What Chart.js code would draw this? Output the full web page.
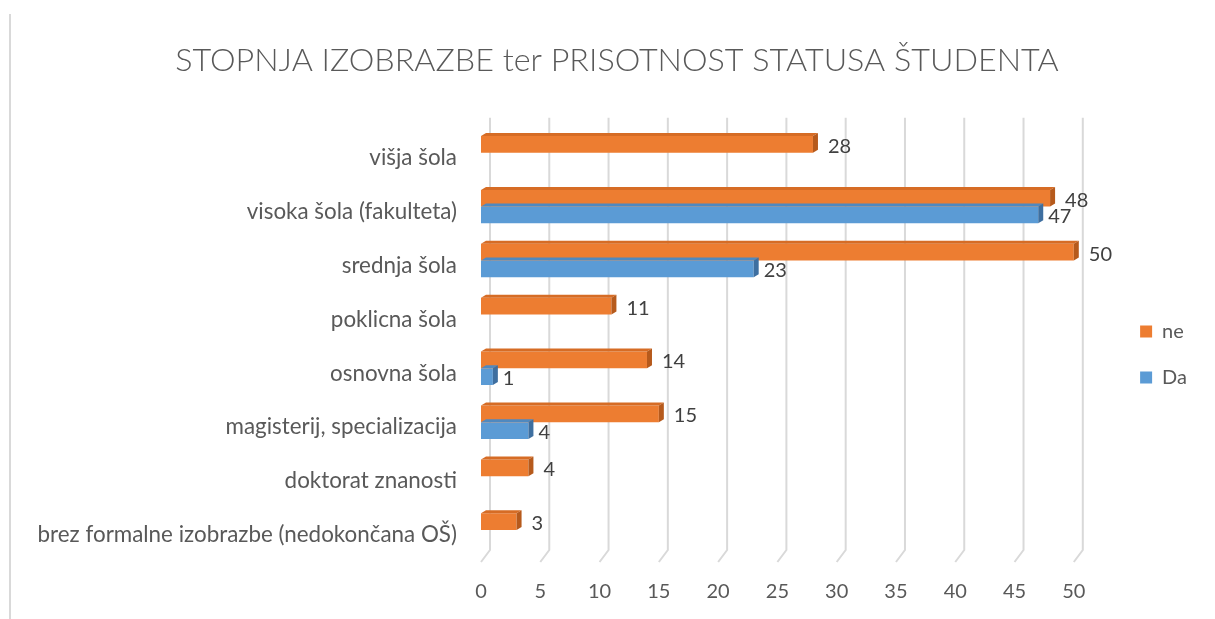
<!DOCTYPE html>
<html>
<head>
<meta charset="utf-8">
<script src="https://cdn.jsdelivr.net/npm/chart.js@4.4.1/dist/chart.umd.min.js"></script>
<style>
  html, body { margin: 0; padding: 0; background: #fff; }
  #wrap { position: relative; width: 1215px; height: 619px; overflow: hidden; }
  #edge { position: absolute; left: 9px; top: 14px; width: 2px; height: 605px; background: #d9d9d9; }
  canvas { position: absolute; left: 0; top: 0; }
</style>
</head>
<body>
<div id="wrap">
  <div id="edge"></div>
  <canvas id="chart" width="1215" height="619"></canvas>
</div>
<script>
const categories = [
    'višja šola',
    'visoka šola (fakulteta)',
    'srednja šola',
    'poklicna šola',
    'osnovna šola',
    'magisterij, specializacija',
    'doktorat znanosti',
    'brez formalne izobrazbe (nedokončana OŠ)'
];
const neValues = [28, 48, 50, 11, 14, 15, 4, 3];
const daValues = [null, 47, 23, null, 1, 4, null, null];
const xTicks = [0, 5, 10, 15, 20, 25, 30, 35, 40, 45, 50];

const FONT = 'Lato, "Open Sans", sans-serif';
const ORANGE = '#ED7D31', ORANGE_DARK = '#B65A1C', ORANGE_TOP = '#D66C25';
const BLUE = '#5B9BD5', BLUE_DARK = '#3E6FA0', BLUE_TOP = '#4F89C0';

// light grey grid with a little slanted "floor" at the bottom, like the 3D chart
const gridPlugin = {
    id: 'grid3d',
    beforeDatasetsDraw(chart) {
        const { ctx, chartArea, scales } = chart;
        ctx.save();
        ctx.strokeStyle = '#d9d9d9';
        ctx.lineWidth = 2;
        xTicks.forEach(v => {
            const px = scales.x.getPixelForValue(v);
            ctx.beginPath();
            ctx.moveTo(px + 9, chartArea.top - 8);
            ctx.lineTo(px + 9, chartArea.bottom - 7);
            ctx.lineTo(px, chartArea.bottom + 5);
            ctx.stroke();
        });
        ctx.restore();
    }
};

// darker top and end faces for the bars + value labels
const barPlugin = {
    id: 'bar3d',
    afterDatasetsDraw(chart) {
        const ctx = chart.ctx;
        const d = 5, dy = 3;
        ctx.save();
        chart.data.datasets.forEach((ds, i) => {
            const meta = chart.getDatasetMeta(i);
            const top = i === 0 ? ORANGE_TOP : BLUE_TOP;
            const side = i === 0 ? ORANGE_DARK : BLUE_DARK;
            meta.data.forEach((bar, j) => {
                const v = ds.data[j];
                if (v === null || v === undefined) return;
                const p = bar.getProps(['x', 'y', 'base', 'height'], true);
                const t = p.y - p.height / 2, b = p.y + p.height / 2;
                ctx.fillStyle = top;
                ctx.beginPath();
                ctx.moveTo(p.base, t);
                ctx.lineTo(p.base + d, t - dy);
                ctx.lineTo(p.x + d, t - dy);
                ctx.lineTo(p.x, t);
                ctx.closePath();
                ctx.fill();
                ctx.fillStyle = side;
                ctx.beginPath();
                ctx.moveTo(p.x, t);
                ctx.lineTo(p.x + d, t - dy);
                ctx.lineTo(p.x + d, b - dy);
                ctx.lineTo(p.x, b);
                ctx.closePath();
                ctx.fill();

                ctx.fillStyle = '#404040';
                ctx.font = '20px ' + FONT;
                ctx.textAlign = 'left';
                ctx.textBaseline = 'middle';
                ctx.fillText(String(v), p.x + (i === 0 ? 15 : 10), p.y + 2);
            });
        });
        ctx.restore();
    }
};

new Chart(document.getElementById('chart'), {
    type: 'bar',
    data: {
        labels: categories,
        datasets: [
            { label: 'ne', data: neValues, backgroundColor: ORANGE },
            { label: 'Da', data: daValues, backgroundColor: BLUE }
        ]
    },
    options: {
        indexAxis: 'y',
        responsive: false,
        animation: false,
        devicePixelRatio: 1,
        categoryPercentage: 0.62,
        barPercentage: 1,
        layout: { padding: { left: 37, right: 18, top: 0, bottom: 0 } },
        plugins: {
            title: {
                display: true,
                text: 'STOPNJA IZOBRAZBE ter PRISOTNOST STATUSA ŠTUDENTA',
                color: '#595959',
                font: { family: FONT, size: 32.3, weight: '300' },
                padding: { top: 41, bottom: 46 }
            },
            legend: {
                position: 'right',
                // empty title only nudges the two items down
                title: { display: true, text: '', font: { size: 10 }, padding: 39 },
                labels: {
                    color: '#595959',
                    font: { family: FONT, size: 20 },
                    boxWidth: 12,
                    boxHeight: 12,
                    padding: 26
                }
            },
            tooltip: { enabled: false }
        },
        scales: {
            x: {
                min: 0,
                max: 53.4, // room for the legend, ticks stop at 50
                afterBuildTicks(scale) { scale.ticks = xTicks.map(v => ({ value: v })); },
                afterFit(scale) { scale.height = 62; },
                grid: { display: false, drawTicks: false },
                border: { display: false },
                ticks: { color: '#595959', font: { family: FONT, size: 20 }, padding: 23 }
            },
            y: {
                afterFit(scale) {
                    scale.width = 444;
                    scale.paddingTop = 0;
                    scale.paddingBottom = 0;
                },
                grid: { display: false, drawTicks: false },
                border: { display: false },
                ticks: { color: '#595959', font: { family: FONT, size: 22.4 }, padding: 24, labelOffset: 5 }
            }
        }
    },
    plugins: [gridPlugin, barPlugin]
});
</script>
</body>
</html>
